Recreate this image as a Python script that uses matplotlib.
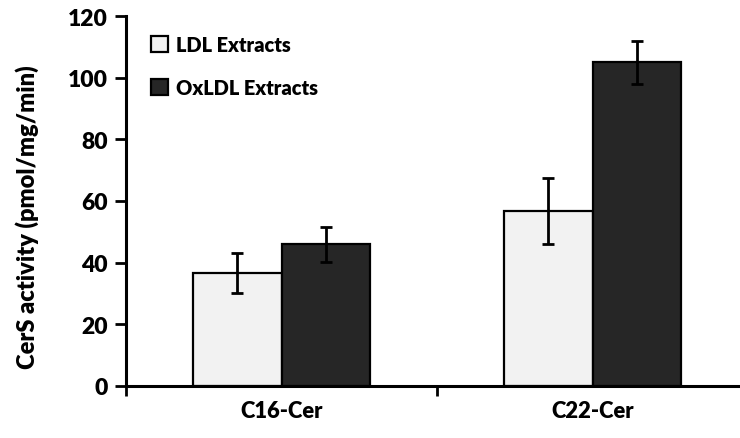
import matplotlib
matplotlib.use("Agg")
import matplotlib.pyplot as plt
from matplotlib.patches import Patch
import numpy as np

categories = ["C16-Cer", "C22-Cer"]
series_names = ["LDL Extracts", "OxLDL Extracts"]
ldl_values = [36.7, 56.8]
ldl_errors = [6.4, 10.8]
oxldl_values = [46.0, 105.0]
oxldl_errors = [5.7, 7.0]
y_ticks = [0, 20, 40, 60, 80, 100, 120]
y_label = "CerS activity (pmol/mg/min)"

plt.rcParams["font.family"] = ["Lato", "DejaVu Sans"]
plt.rcParams["font.weight"] = "bold"

fig = plt.figure(figsize=(7.40, 4.39), dpi=100)
ax = fig.add_axes([126 / 740, 1 - 387 / 439, 622 / 740, 370 / 439])

x = np.arange(len(categories))
w = 0.286
light = "#f2f2f2"
dark = "#262626"
err_kw = dict(ecolor="black", elinewidth=2.0, capsize=4.5, capthick=2.0)

ax.bar(x - w / 2, ldl_values, w, yerr=ldl_errors, color=light,
       edgecolor="black", linewidth=1.6, error_kw=err_kw, zorder=2)
ax.bar(x + w / 2, oxldl_values, w, yerr=oxldl_errors, color=dark,
       edgecolor="black", linewidth=1.6, error_kw=err_kw, zorder=2)

ax.set_xlim(-0.5, 1.5)
ax.set_ylim(0, 120)
ax.set_yticks(y_ticks)
ax.set_yticklabels([str(t) for t in y_ticks], fontsize=16.5, fontweight="heavy")

ax.set_xticks(x)
ax.set_xticklabels(categories, fontsize=15.8, fontweight="heavy")
ax.set_xticks([-0.5, 0.5, 1.5], minor=True)
ax.tick_params(axis="x", which="major", length=0, pad=10)
ax.tick_params(axis="x", which="minor", length=7, width=2, direction="out")
ax.tick_params(axis="y", which="major", length=8, width=2, direction="out", pad=5)

for side in ("top", "right"):
    ax.spines[side].set_visible(False)
for side in ("left", "bottom"):
    ax.spines[side].set_linewidth(2.2)

fig.text(27 / 740, 1 - 217.5 / 439, y_label, rotation=90, ha="center",
         va="center", fontsize=17, fontweight="heavy")

handles = [Patch(facecolor=light, edgecolor="black", linewidth=1.6),
           Patch(facecolor=dark, edgecolor="black", linewidth=1.6)]
ax.legend(handles, series_names, loc="upper left",
          bbox_to_anchor=(0.04, 0.949), frameon=False,
          handlelength=0.85, handleheight=0.85, handletextpad=0.4,
          labelspacing=1.2, borderpad=0, borderaxespad=0,
          prop={"weight": "heavy", "size": 14.4})

fig.savefig("out.png", dpi=100)
